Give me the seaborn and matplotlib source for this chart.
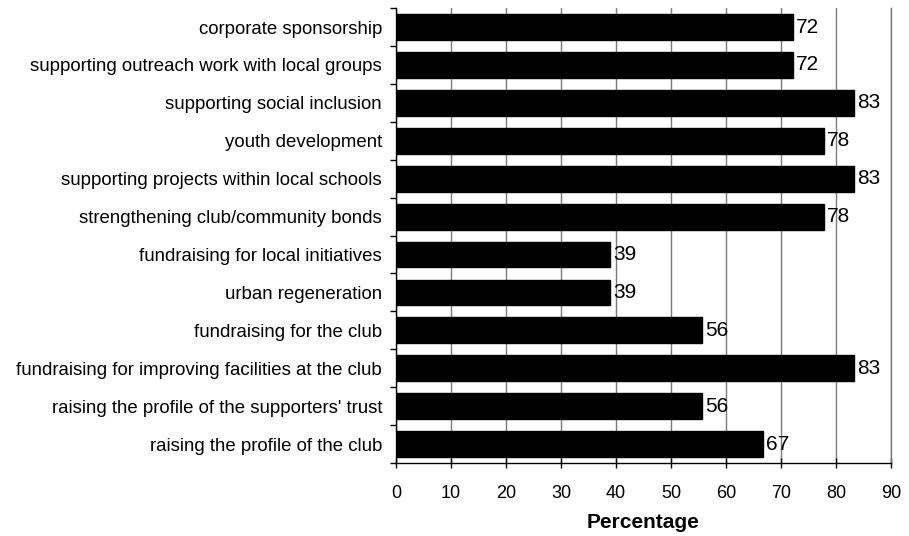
import pandas as pd
import seaborn as sns
import matplotlib.pyplot as plt
from matplotlib.ticker import FixedLocator

# categories top to bottom, values as percentages (n=18 style)
activities = [
    "corporate sponsorship",
    "supporting outreach work with local groups",
    "supporting social inclusion",
    "youth development",
    "supporting projects within local schools",
    "strengthening club/community bonds",
    "fundraising for local initiatives",
    "urban regeneration",
    "fundraising for the club",
    "fundraising for improving facilities at the club",
    "raising the profile of the supporters' trust",
    "raising the profile of the club",
]
percentages = [72.2, 72.2, 83.3, 77.8, 83.3, 77.8, 38.9, 38.9, 55.6, 83.3, 55.6, 66.7]
value_labels = ["72", "72", "83", "78", "83", "78", "39", "39", "56", "83", "56", "67"]

df = pd.DataFrame({"activity": activities, "pct": percentages})

sns.set_style("white")
plt.rcParams["font.family"] = ["Liberation Sans", "DejaVu Sans"]
plt.rcParams["text.color"] = "black"
plt.rcParams["xtick.color"] = "black"
plt.rcParams["ytick.color"] = "black"
plt.rcParams["axes.labelcolor"] = "black"

fig = plt.figure(figsize=(9.09, 5.36), dpi=100)
ax = fig.add_axes([0.4356, 0.136, 0.5445, 0.849])

sns.barplot(data=df, x="pct", y="activity", orient="h", color="black",
            saturation=1, edgecolor="black", width=0.68, ax=ax, zorder=3)

for i, lab in enumerate(value_labels):
    ax.text(percentages[i] + 0.6, i, lab, va="center", ha="left",
            fontsize=15, zorder=4)

ax.set_xlim(0, 90)
ax.set_ylim(len(activities) - 0.5, -0.5)
ax.set_xticks(range(0, 91, 10))
ax.xaxis.grid(True, color="#7a7a7a", linewidth=1, zorder=0)
ax.yaxis.grid(False)

ax.spines["top"].set_visible(False)
ax.spines["right"].set_visible(True)
ax.spines["right"].set_color("#7a7a7a")
ax.spines["right"].set_linewidth(1)
for side in ["left", "bottom"]:
    ax.spines[side].set_color("black")
    ax.spines[side].set_linewidth(1)

ax.tick_params(axis="x", direction="inout", length=7, width=1,
               labelsize=13, bottom=True, pad=12)
ax.tick_params(axis="y", which="major", length=0, labelsize=13.4, pad=10)
ax.yaxis.set_minor_locator(FixedLocator([i - 0.5 for i in range(len(activities) + 1)]))
ax.tick_params(axis="y", which="minor", direction="out", length=4, width=1,
               left=True)

ax.set_xlabel("Percentage", fontsize=15, fontweight="bold", labelpad=8)
ax.set_ylabel("")

fig.savefig("out.png", dpi=100)
